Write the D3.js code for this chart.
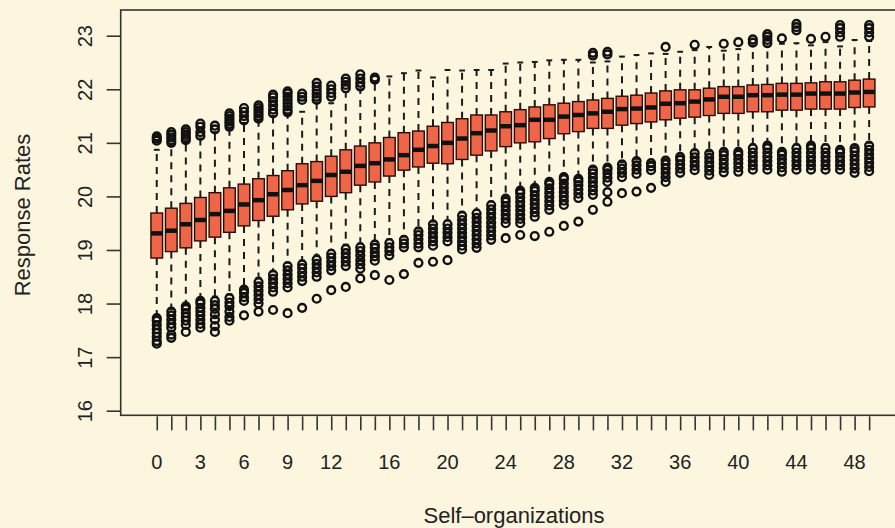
<!DOCTYPE html>
<html>
<head>
<meta charset="utf-8">
<script src="https://cdn.jsdelivr.net/npm/d3@7"></script>
<style>
  html, body { margin: 0; padding: 0; background: #fdf6de; }
  svg { display: block; }
  text { font-family: "Liberation Sans", Arial, Helvetica, sans-serif; fill: #222; }
</style>
</head>
<body>
<svg id="chart" width="895" height="528"></svg>
<script>
// Number of self-organizations for each box (0..49)
const categories = d3.range(0, 50);

// Box statistics per category
const q1 = [18.85,18.97,19.04,19.17,19.24,19.33,19.45,19.55,19.63,19.75,
            19.86,19.91,20.00,20.07,20.21,20.27,20.38,20.49,20.55,20.62,
            20.61,20.69,20.77,20.85,20.93,21.00,21.02,21.08,21.17,21.21,
            21.27,21.27,21.33,21.36,21.39,21.43,21.46,21.48,21.51,21.55,
            21.55,21.58,21.58,21.61,21.61,21.63,21.63,21.63,21.66,21.67];
const medians = [19.31,19.36,19.48,19.56,19.67,19.73,19.85,19.93,20.04,20.12,
            20.21,20.29,20.40,20.46,20.57,20.62,20.69,20.77,20.87,20.94,
            21.00,21.08,21.18,21.23,21.31,21.33,21.43,21.43,21.49,21.52,
            21.55,21.58,21.63,21.64,21.66,21.73,21.74,21.77,21.81,21.86,
            21.86,21.89,21.89,21.90,21.90,21.92,21.92,21.92,21.94,21.95];
const q3 = [19.69,19.78,19.87,19.98,20.07,20.16,20.23,20.33,20.39,20.48,
            20.61,20.65,20.75,20.87,20.94,21.00,21.10,21.19,21.22,21.31,
            21.38,21.45,21.52,21.52,21.58,21.62,21.67,21.71,21.74,21.77,
            21.80,21.83,21.87,21.89,21.93,21.97,21.99,21.99,22.02,22.05,
            22.05,22.08,22.09,22.11,22.11,22.12,22.14,22.14,22.17,22.19];
const whiskerLow = [17.78,17.90,17.98,18.10,18.13,18.17,18.30,18.48,18.60,18.76,
            18.80,18.90,19.00,19.10,19.12,19.17,19.20,19.25,19.40,19.53,
            19.55,19.70,19.75,19.90,20.00,20.15,20.20,20.30,20.40,20.36,
            20.55,20.57,20.64,20.70,20.65,20.70,20.77,20.86,20.84,20.88,
            20.88,20.97,21.00,20.88,20.97,21.00,20.97,20.92,20.95,21.00];
const whiskerHigh = [20.87,20.95,21.00,21.08,21.20,21.25,21.37,21.40,21.50,21.52,
            21.58,21.75,21.74,21.95,22.00,22.12,22.24,22.30,22.35,22.22,
            22.36,22.35,22.36,22.36,22.48,22.50,22.51,22.54,22.55,22.55,
            22.50,22.52,22.61,22.64,22.67,22.66,22.70,22.73,22.79,22.72,
            22.75,22.82,22.80,22.85,22.86,22.82,22.88,22.80,22.92,22.90];

// Outlying observations above the upper whisker
const outliersHigh = [
  [21.04,21.08,21.12],
  [21.00,21.05,21.10,21.15,21.20],
  [21.05,21.10,21.15,21.20,21.25],
  [21.13,21.20,21.30,21.36],
  [21.25,21.32],
  [21.30,21.35,21.40,21.45,21.50,21.55],
  [21.42,21.50,21.58,21.65],
  [21.45,21.50,21.55,21.60,21.65,21.70],
  [21.55,21.62,21.70,21.78,21.85,21.90],
  [21.57,21.62,21.68,21.74,21.80,21.86,21.92,21.96],
  [21.80,21.86,21.92],
  [21.80,21.86,21.92,21.98,22.05,22.12],
  [21.86,21.93,22.00,22.07],
  [22.02,22.08,22.14,22.20],
  [22.05,22.12,22.20,22.28],
  [22.18,22.22],
  [],[],[],[],[],[],[],[],[],[],[],[],[],[],
  [22.63,22.68],
  [22.65,22.70],
  [],[],[],
  [22.79],
  [],
  [22.83],
  [],
  [22.85],
  [22.88],
  [22.87,22.93],
  [22.86,22.92,22.98,23.03],
  [22.95],
  [23.10,23.16,23.22],
  [22.94],
  [22.98],
  [22.98,23.06,23.14,23.20],
  [],
  [22.98,23.06,23.14,23.20]
];

// Outlying observations below the lower whisker
const outliersLow = [
  [17.25,17.30,17.38,17.45,17.52,17.60,17.68,17.73],
  [17.36,17.42,17.55,17.62,17.70,17.78,17.85],
  [17.47,17.60,17.68,17.75,17.82,17.90,17.95],
  [17.55,17.62,17.70,17.78,17.85,17.92,18.00,18.05],
  [17.47,17.58,17.70,17.80,17.90,17.97,18.05],
  [17.68,17.75,17.85,17.95,18.02,18.10],
  [17.78,18.05,18.12,18.20,18.26],
  [17.85,18.00,18.08,18.16,18.24,18.32,18.40],
  [17.88,18.22,18.30,18.38,18.46,18.54],
  [17.82,18.30,18.38,18.46,18.54,18.62,18.70],
  [17.92,18.42,18.50,18.58,18.66,18.73],
  [18.09,18.50,18.58,18.66,18.74,18.82],
  [18.25,18.62,18.70,18.78,18.86,18.93],
  [18.31,18.70,18.78,18.86,18.94,19.02],
  [18.47,18.65,18.73,18.81,18.90,18.98,19.05],
  [18.53,18.80,18.88,18.96,19.04,19.10],
  [18.44,18.90,18.98,19.05,19.13],
  [18.55,19.05,19.12,19.19],
  [18.76,19.05,19.12,19.20,19.28,19.35],
  [18.78,19.08,19.16,19.24,19.32,19.40,19.48],
  [18.81,19.16,19.24,19.32,19.40,19.48],
  [19.01,19.08,19.16,19.24,19.32,19.40,19.48,19.56,19.64],
  [19.04,19.12,19.20,19.28,19.36,19.44,19.52,19.60,19.68],
  [19.19,19.27,19.35,19.43,19.51,19.60,19.68,19.76,19.84],
  [19.22,19.50,19.58,19.66,19.74,19.82,19.90,19.96],
  [19.28,19.50,19.58,19.66,19.74,19.82,19.90,19.98,20.06,20.11],
  [19.26,19.62,19.70,19.78,19.86,19.94,20.02,20.10,20.16],
  [19.34,19.75,19.83,19.91,19.99,20.07,20.15,20.23,20.27],
  [19.45,19.84,19.92,20.00,20.08,20.16,20.24,20.32,20.36],
  [19.53,19.97,20.05,20.13,20.21,20.28,20.33],
  [19.75,20.03,20.11,20.19,20.27,20.35,20.43,20.50],
  [19.90,20.08,20.27,20.35,20.43,20.50,20.54],
  [20.06,20.36,20.44,20.52,20.60],
  [20.09,20.42,20.50,20.58,20.66],
  [20.16,20.49,20.56,20.62],
  [20.27,20.36,20.44,20.52,20.60,20.67],
  [20.44,20.52,20.60,20.68,20.74],
  [20.49,20.57,20.65,20.73,20.81],
  [20.40,20.48,20.56,20.64,20.72,20.80],
  [20.45,20.53,20.61,20.69,20.77,20.83],
  [20.46,20.54,20.62,20.70,20.78,20.83],
  [20.50,20.58,20.66,20.74,20.82,20.90],
  [20.50,20.58,20.66,20.74,20.82,20.90,20.95],
  [20.46,20.54,20.62,20.70,20.78,20.83],
  [20.50,20.58,20.66,20.74,20.82,20.90],
  [20.50,20.58,20.66,20.74,20.82,20.90,20.95],
  [20.50,20.58,20.66,20.74,20.82,20.90],
  [20.50,20.58,20.66,20.74,20.82,20.87],
  [20.44,20.52,20.60,20.68,20.76,20.84,20.90],
  [20.47,20.55,20.63,20.71,20.79,20.87,20.95]
];

// Axis tick labels
const yTicks = [16, 17, 18, 19, 20, 21, 22, 23];
const xTickLabels = [0, 3, 6, 9, 12, 16, 20, 24, 28, 32, 36, 40, 44, 48];

const boxes = categories.map((c, i) => ({
  cat: c, q1: q1[i], med: medians[i], q3: q3[i],
  lo: whiskerLow[i], hi: whiskerHigh[i],
  out: outliersHigh[i].concat(outliersLow[i])
}));

const svg = d3.select("#chart");
const W = 895, H = 528;
svg.append("rect").attr("width", W).attr("height", H).attr("fill", "#fdf6de");

// Plot region (the right edge runs past the canvas)
const frame = { left: 120.7, top: 10, right: 905.2, bottom: 415.3 };

const x = d3.scaleLinear().domain([-2.48, 51.48]).range([frame.left, frame.right]);
const y = d3.scaleLinear().domain([16, 23]).range([410.7, 35.7]);
const step = x(1) - x(0);
const bw = step * 0.8;

const g = svg.append("g");

// Whiskers (dashed) and staples
const wh = g.append("g").attr("stroke", "#1a1a1a").attr("stroke-width", 2);
boxes.forEach(b => {
  const cx = x(b.cat);
  wh.append("line").attr("x1", cx).attr("x2", cx)
    .attr("y1", y(b.q3)).attr("y2", y(b.hi)).attr("stroke-dasharray", "7,6");
  wh.append("line").attr("x1", cx).attr("x2", cx)
    .attr("y1", y(b.q1)).attr("y2", y(b.lo)).attr("stroke-dasharray", "7,6");
  [b.hi, b.lo].forEach(v => {
    wh.append("line").attr("x1", cx - bw / 4).attr("x2", cx + bw / 4)
      .attr("y1", y(v)).attr("y2", y(v));
  });
});

// Boxes
g.append("g").selectAll("rect").data(boxes).join("rect")
  .attr("x", d => x(d.cat) - bw / 2)
  .attr("y", d => y(d.q3))
  .attr("width", bw)
  .attr("height", d => y(d.q1) - y(d.q3))
  .attr("fill", "#ef6548")
  .attr("stroke", "#2a0a04")
  .attr("stroke-width", 1.4);

// Medians
g.append("g").selectAll("line").data(boxes).join("line")
  .attr("x1", d => x(d.cat) - bw / 2)
  .attr("x2", d => x(d.cat) + bw / 2)
  .attr("y1", d => y(d.med)).attr("y2", d => y(d.med))
  .attr("stroke", "#111").attr("stroke-width", 4.5);

// Outliers as open circles
const pts = boxes.flatMap(b => b.out.map(v => ({ cat: b.cat, v })));
g.append("g").selectAll("circle").data(pts).join("circle")
  .attr("cx", d => x(d.cat)).attr("cy", d => y(d.v))
  .attr("r", 3.9)
  .attr("fill", "none").attr("stroke", "#111").attr("stroke-width", 2.4);

// Frame
svg.append("rect")
  .attr("x", frame.left).attr("y", frame.top)
  .attr("width", frame.right - frame.left)
  .attr("height", frame.bottom - frame.top)
  .attr("fill", "none").attr("stroke", "#333").attr("stroke-width", 1.6);

// Y axis
const yAxis = d3.axisLeft(y).tickValues(yTicks).tickSize(14).tickPadding(0).tickFormat(d3.format("d"));
const ya = svg.append("g").attr("transform", `translate(${frame.left},0)`).call(yAxis);
ya.select(".domain").remove();
ya.selectAll(".tick line").attr("stroke", "#333").attr("stroke-width", 1.6);
ya.selectAll(".tick text").remove();
ya.selectAll(".tick").append("text")
  .attr("transform", "translate(-36,0) rotate(-90)")
  .attr("text-anchor", "middle").attr("dy", "0.35em")
  .attr("font-size", 20).attr("fill", "#222")
  .text(d => d);

// X axis: a tick under every box, labels where they fit
const xAxis = d3.axisBottom(x).tickValues(categories).tickSize(14).tickFormat("");
const xa = svg.append("g").attr("transform", `translate(0,${frame.bottom + 1})`).call(xAxis);
xa.select(".domain").remove();
xa.selectAll(".tick line").attr("stroke", "#333").attr("stroke-width", 1.6);
svg.append("g").selectAll("text").data(xTickLabels).join("text")
  .attr("x", d => x(d)).attr("y", 462).attr("dy", "0.35em")
  .attr("text-anchor", "middle").attr("font-size", 20)
  .text(d => d);

// Axis titles
svg.append("text").attr("x", 514).attr("y", 515).attr("dy", "0.35em")
  .attr("text-anchor", "middle").attr("font-size", 22)
  .text("Self\u2013organizations");
svg.append("text").attr("transform", "translate(22,215) rotate(-90)")
  .attr("dy", "0.35em").attr("text-anchor", "middle").attr("font-size", 22)
  .text("Response Rates");
</script>
</body>
</html>
